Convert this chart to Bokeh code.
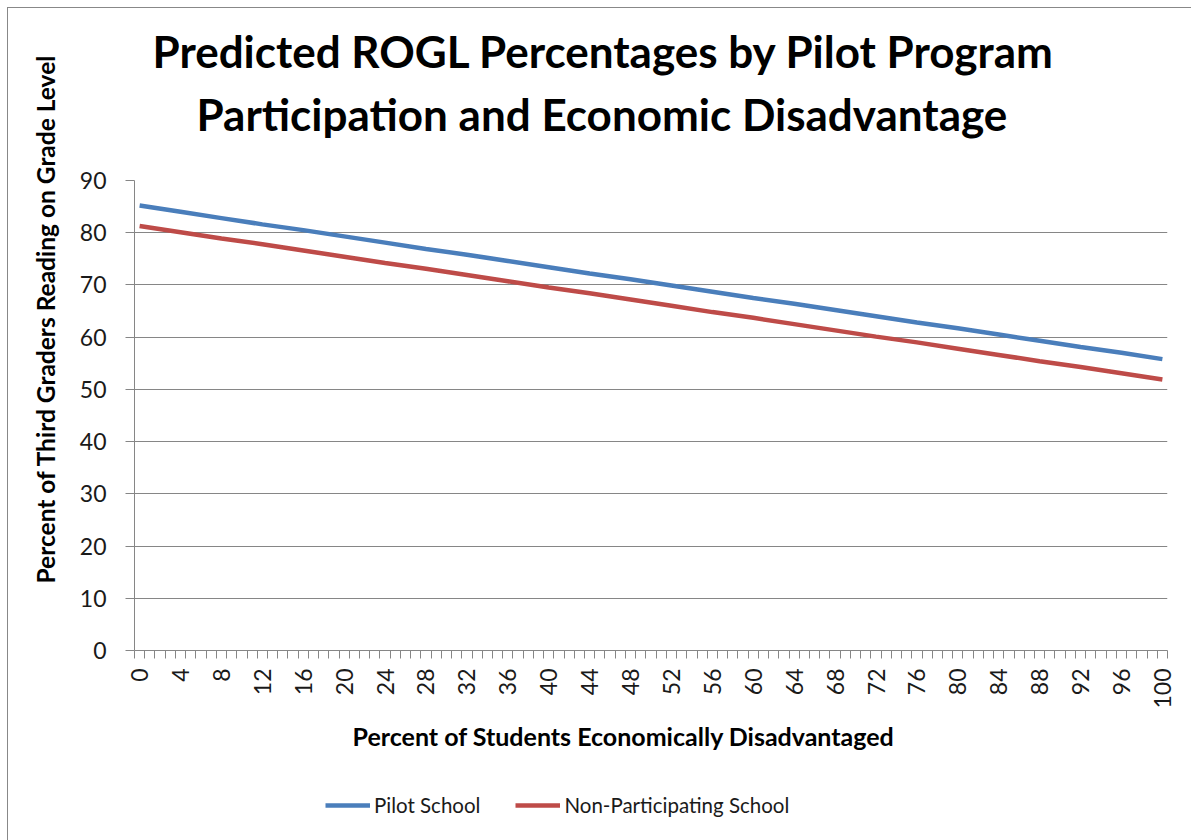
import math
from bokeh.plotting import figure
from bokeh.layouts import column
from bokeh.models import (FixedTicker, Legend, LegendItem, Range1d, Title)
from bokeh.embed import file_html
from bokeh.resources import INLINE

# ---- data ----
x_pct = [0, 4, 8, 12, 16, 20, 24, 28, 32, 36, 40, 44, 48, 52, 56, 60, 64, 68, 72, 76, 80, 84, 88, 92, 96, 100]
pilot = [85.2, 84.0, 82.8, 81.6, 80.5, 79.3, 78.1, 76.9, 75.8, 74.6, 73.4, 72.2, 71.1,
         69.9, 68.7, 67.5, 66.4, 65.2, 64.0, 62.8, 61.7, 60.5, 59.3, 58.1, 57.0, 55.8]
nonpart = [81.3, 80.1, 78.9, 77.8, 76.6, 75.4, 74.2, 73.1, 71.9, 70.7, 69.5, 68.4, 67.2,
           66.0, 64.8, 63.7, 62.5, 61.3, 60.1, 59.0, 57.8, 56.6, 55.4, 54.3, 53.1, 51.9]
x_tick_labels = [0, 4, 8, 12, 16, 20, 24, 28, 32, 36, 40, 44, 48, 52, 56, 60, 64, 68, 72, 76, 80, 84, 88, 92, 96, 100]
y_ticks = [0, 10, 20, 30, 40, 50, 60, 70, 80, 90]

title_lines = ["Predicted ROGL Percentages by Pilot Program",
               "Participation and Economic Disadvantage"]
x_title = "Percent of Students Economically Disadvantaged"
y_title = "Percent of Third Graders Reading on Grade Level"
series_names = ["Pilot School", "Non-Participating School"]
colors = ["#4A7EBB", "#BE4B48"]

FONT = "Lato"
OX, OY = 8, 8                      # canvas origin on the page (after margin+border)
FL, FR, FT, FB = 134 - OX, 1167 - OX, 180 - OY, 650 - OY  # frame edges in canvas px
MAIN_BOTTOM = 120                  # space below the frame in the main figure
W = 1191 - OX
LEG_H = 840 - OY - FB - MAIN_BOTTOM

p = figure(frame_width=FR - FL, frame_height=FB - FT,
           output_backend="svg", toolbar_location=None,
           x_range=Range1d(-0.5, 100.5), y_range=Range1d(0, 90),
           min_border_left=FL, min_border_right=W - FR,
           min_border_top=FT, min_border_bottom=MAIN_BOTTOM)
p.outline_line_color = None
p.background_fill_color = "white"
p.border_fill_color = "white"

# axes
p.xaxis.ticker = FixedTicker(ticks=x_tick_labels,
                             minor_ticks=[i - 0.5 for i in range(0, 102)])
p.xaxis.major_tick_out = 0
p.xaxis.major_tick_in = 0
p.xaxis.minor_tick_out = 8
p.xaxis.minor_tick_in = 0
p.xaxis.minor_tick_line_color = "#868686"
p.xaxis.major_label_orientation = math.pi / 2
p.xaxis.major_label_standoff = 10
p.yaxis.ticker = FixedTicker(ticks=y_ticks, minor_ticks=[])
p.yaxis.major_tick_out = 9
p.yaxis.major_tick_in = 0
p.yaxis.major_label_standoff = 19
for ax in (p.xaxis, p.yaxis):
    ax.axis_line_color = "#868686"
    ax.major_tick_line_color = "#868686"
    ax.major_label_text_font = FONT
    ax.major_label_text_font_size = "23px"
    ax.major_label_text_color = "#1a1a1a"
p.xgrid.visible = False
p.ygrid.grid_line_color = "#868686"
p.ygrid.grid_line_width = 1

# lines
r1 = p.line(x_pct, pilot, line_color=colors[0], line_width=4.5)
r2 = p.line(x_pct, nonpart, line_color=colors[1], line_width=4.5)

# titles (second line first: later 'above' items sit farther from the plot)
p.add_layout(Title(text=title_lines[1], text_font=FONT, text_font_style="bold",
                   text_font_size="44px", align="left", offset=62, standoff=82,
                   text_color="black"), "above")
p.add_layout(Title(text=title_lines[0], text_font=FONT, text_font_style="bold",
                   text_font_size="44px", align="left", offset=18, standoff=-64,
                   text_color="black"), "above")

# axis titles
p.add_layout(Title(text=x_title, text_font=FONT, text_font_style="bold",
                   text_font_size="25px", align="left", offset=218, standoff=15,
                   text_color="black"), "below")
p.add_layout(Title(text=y_title, text_font=FONT, text_font_style="bold",
                   text_font_size="24.5px", align="left", offset=67, standoff=34,
                   text_color="black"), "left")

# legend strip below the chart: key lines use the same series, outside its view
pl = figure(width=W, height=LEG_H, output_backend="svg", toolbar_location=None,
            x_axis_type=None, y_axis_type=None,
            x_range=Range1d(0, 1), y_range=Range1d(0, 1),
            min_border_left=0, min_border_right=0, min_border_top=0, min_border_bottom=0)
pl.outline_line_color = None
pl.xgrid.visible = False
pl.ygrid.visible = False
k1 = pl.line(x_pct, pilot, line_color=colors[0], line_width=4.5)
k2 = pl.line(x_pct, nonpart, line_color=colors[1], line_width=4.5)
legend = Legend(items=[LegendItem(label=series_names[0], renderers=[k1]),
                       LegendItem(label=series_names[1], renderers=[k2])],
                orientation="horizontal", location=(191, 23),
                glyph_width=45, label_standoff=4, spacing=35, margin=0, padding=10,
                label_text_font=FONT, label_text_font_size="20.5px",
                label_text_color="#1a1a1a",
                border_line_color=None, background_fill_alpha=0)
pl.add_layout(legend)

layout = column(p, pl, spacing=0, margin=(OY - 1, 0, 0, OX - 1),
                styles={"border-left": "1px solid #888888", "border-top": "1px solid #888888"})

open("out.html", "w").write(file_html(layout, INLINE))
